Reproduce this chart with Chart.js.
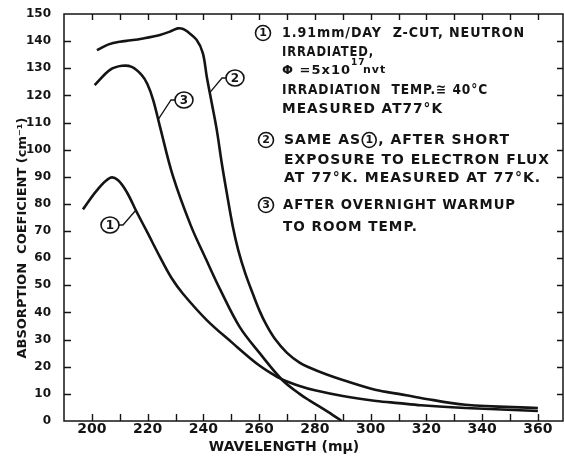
<!DOCTYPE html>
<html>
<head>
<meta charset="utf-8">
<script src="https://cdn.jsdelivr.net/npm/chart.js@4.4.1/dist/chart.umd.min.js"></script>
<style>
  html, body { margin:0; padding:0; background:#fff; }
</style>
</head>
<body>
<canvas id="grafico" width="564" height="457"></canvas>
<script>
// curva 1 : irradiada, medida a 77K
const wl1  = [196.8, 201.8, 206.5, 209.3, 212.5, 216.1, 220, 224.4, 228.7, 232.6, 241.2, 250.5, 259.1, 264, 268.3, 274.5, 280, 290, 302, 310, 318, 334, 360];
const abs1 = [78, 85, 89.6, 88.8, 84.4, 77, 69.3, 60.5, 52.5, 47, 37.2, 28.7, 21.2, 17.8, 15.3, 12.9, 11.3, 9.2, 7.4, 6.6, 5.8, 4.8, 3.7];

// curva 2 : depois do fluxo de electroes
const wl2  = [201.8, 206, 210, 214, 218.3, 224.4, 228, 230.8, 232.5, 234, 237.6, 239.8, 241.2, 243, 244.8, 246.6, 248.4, 250.5, 252.5, 255, 257.7, 260.2, 262.7, 265.5, 269.9, 274.5, 278, 284, 290, 302, 310, 318, 334, 360];
const abs2 = [136.7, 138.8, 139.8, 140.3, 141, 142.3, 143.5, 144.7, 144.6, 143.7, 140.4, 135.6, 127, 117.2, 107.3, 95, 84, 72, 63, 54.5, 47, 40.5, 35.2, 30.5, 25.2, 21.5, 19.7, 17.2, 15.1, 11.4, 10, 8.5, 6, 4.8];

// curva 3 : depois do aquecimento
const wl3  = [201, 206.5, 210.8, 214.3, 217.9, 219.9, 222, 224.4, 229, 235.5, 241, 246, 253, 260.2, 268.3, 274.5, 278, 284, 289.6];
const abs3 = [123.8, 129.4, 130.9, 130.5, 127.5, 124.2, 118.3, 108.6, 90.5, 72, 59.5, 48.5, 34.7, 25, 15.1, 10, 7.6, 3.8, 0];

const xTicks = [200, 210, 220, 230, 240, 250, 260, 270, 280, 290, 300, 310, 320, 330, 340, 350, 360];
const yTicks = [0, 10, 20, 30, 40, 50, 60, 70, 80, 90, 100, 110, 120, 130, 140, 150];

const tinta = '#141414';
const fonte = '"DejaVu Sans", sans-serif';

function pontos(xs, ys){ return xs.map((x,i)=>({x:x, y:ys[i]})); }

function circulo(ctx, cx, cy, rx, ry, txt, tam){
    ctx.beginPath();
    ctx.ellipse(cx, cy, rx, ry, 0, 0, Math.PI*2);
    ctx.lineWidth = 1.6;
    ctx.stroke();
    ctx.font = 'bold '+tam+'px '+fonte;
    ctx.textAlign = 'center';
    ctx.textBaseline = 'middle';
    ctx.fillText(txt, cx, cy+0.5);
}

// linha de texto com largura maxima
function linha(ctx, txt, x, y, larg){
    const w = ctx.measureText(txt).width;
    if(larg && w > larg) ctx.fillText(txt, x, y, larg);
    else ctx.fillText(txt, x, y);
}

// moldura, tracos internos, titulos e anotacoes
const desenho = {
    id: 'desenho',
    afterDraw(chart){
        const ctx = chart.ctx;
        const a = chart.chartArea;
        const sx = chart.scales.x, sy = chart.scales.y;
        ctx.save();
        ctx.strokeStyle = tinta;
        ctx.fillStyle = tinta;

        // moldura
        ctx.lineWidth = 1.5;
        ctx.strokeRect(a.left, a.top, a.right-a.left, a.bottom-a.top);

        // tracos para dentro
        ctx.lineWidth = 1.4;
        ctx.beginPath();
        xTicks.forEach(v=>{
            const px = Math.round(sx.getPixelForValue(v))+0.5;
            ctx.moveTo(px, a.bottom); ctx.lineTo(px, a.bottom-7);
            ctx.moveTo(px, a.top); ctx.lineTo(px, a.top+6);
        });
        yTicks.forEach(v=>{
            if(v===0 || v===150) return;
            const py = Math.round(sy.getPixelForValue(v))+0.5;
            ctx.moveTo(a.left, py); ctx.lineTo(a.left+7, py);
            ctx.moveTo(a.right, py); ctx.lineTo(a.right-6, py);
        });
        ctx.stroke();

        // titulo do eixo y
        ctx.save();
        ctx.translate(23, 238);
        ctx.rotate(-Math.PI/2);
        ctx.font = 'bold 13px '+fonte;
        ctx.textAlign = 'center';
        ctx.textBaseline = 'middle';
        ctx.fillText('ABSORPTION  COEFICIENT (cm\u207B\u00B9)', 0, 0);
        ctx.restore();

        // titulo do eixo x
        ctx.font = 'bold 14px '+fonte;
        ctx.textAlign = 'center';
        ctx.textBaseline = 'middle';
        ctx.fillText('WAVELENGTH (m\u03BC)', 284, 447);

        // legenda
        ctx.letterSpacing = '1px';
        ctx.font = 'bold 14px '+fonte;
        ctx.textAlign = 'left';
        ctx.textBaseline = 'middle';
        linha(ctx, '1.91mm/DAY  Z-CUT, NEUTRON', 282, 33, 243);
        linha(ctx, 'IRRADIATED,', 282, 52, 92);
        ctx.font = 'bold 13px '+fonte;
        ctx.fillText('\u03A6 =5x10', 282, 71);
        let w = ctx.measureText('\u03A6 =5x10').width;
        ctx.font = 'bold 9px '+fonte;
        ctx.fillText('17', 282+w, 63);
        ctx.font = 'bold 11px '+fonte;
        ctx.fillText('nvt', 282+w+12, 70);
        ctx.font = 'bold 14px '+fonte;
        linha(ctx, 'IRRADIATION  TEMP.\u2245 40\u00B0C', 282, 90, 206);
        linha(ctx, 'MEASURED AT77\u00B0K', 282, 109, 161);
        ctx.fillText('SAME AS', 284, 140);
        w = ctx.measureText('SAME AS').width;
        ctx.fillText(', AFTER SHORT', 284+w+17, 140);
        linha(ctx, 'EXPOSURE TO ELECTRON FLUX', 284, 160, 266);
        linha(ctx, 'AT 77\u00B0K. MEASURED AT 77\u00B0K.', 284, 178, 258);
        linha(ctx, 'AFTER OVERNIGHT WARMUP', 283, 205, 233);
        linha(ctx, 'TO ROOM TEMP.', 283, 227, 135);
        ctx.letterSpacing = '0px';
        circulo(ctx, 263, 33, 7.5, 7.5, '1', 11);
        circulo(ctx, 266, 140, 7.5, 7.5, '2', 11);
        circulo(ctx, 284+w+8, 140, 7, 7.5, '1', 11);
        circulo(ctx, 266, 205, 7.5, 7.5, '3', 11);

        // chamadas nas curvas
        const chamadas = [
            {n:'1', cx:110, cy:225, x:215.6, y:77.5},
            {n:'2', cx:235, cy:78, x:242.3, y:121},
            {n:'3', cx:184, cy:100, x:223.7, y:111}
        ];
        chamadas.forEach(c=>{
            const px = sx.getPixelForValue(c.x), py = sy.getPixelForValue(c.y);
            const lado = px < c.cx ? -1 : 1;
            const bx = c.cx + lado*9;
            ctx.lineWidth = 1.3;
            ctx.beginPath();
            ctx.moveTo(bx, c.cy);
            ctx.lineTo(bx + lado*4, c.cy);
            ctx.lineTo(px, py);
            ctx.stroke();
            circulo(ctx, c.cx, c.cy, 9, 8, c.n, 12);
        });

        ctx.restore();
    }
};

const estilo = {
    borderColor: tinta,
    borderWidth: 2.6,
    pointRadius: 0,
    showLine: true,
    fill: false,
    tension: 0.35
};

const ctx = document.getElementById('grafico').getContext('2d');
const grafico = new Chart(ctx, {
    type: 'scatter',
    data: {
        datasets: [
            Object.assign({ label: '1', data: pontos(wl1, abs1) }, estilo),
            Object.assign({ label: '2', data: pontos(wl2, abs2) }, estilo),
            Object.assign({ label: '3', data: pontos(wl3, abs3) }, estilo)
        ]
    },
    options: {
        responsive: false,
        animation: false,
        devicePixelRatio: 1,
        layout: { padding: { top: 14, right: 1, left: 0, bottom: 0 } },
        plugins: {
            legend: { display: false },
            tooltip: { enabled: false }
        },
        scales: {
            x: {
                type: 'linear',
                min: 190,
                max: 369,
                grid: { display: false },
                border: { display: false },
                afterFit: s => { s.height = 36; },
                afterBuildTicks: s => { s.ticks = xTicks.map(v => ({ value: v })); },
                ticks: {
                    autoSkip: false,
                    maxRotation: 0,
                    padding: -8,
                    color: tinta,
                    font: { family: fonte, size: 14, weight: 'bold', lineHeight: 1.2 },
                    callback: v => (v % 20 === 0 ? String(v) : '')
                }
            },
            y: {
                type: 'linear',
                min: 0,
                max: 150,
                grid: { display: false },
                border: { display: false },
                afterFit: s => { s.width = 64; },
                afterBuildTicks: s => { s.ticks = yTicks.map(v => ({ value: v })); },
                ticks: {
                    autoSkip: false,
                    padding: 5,
                    color: tinta,
                    font: { family: fonte, size: 12, weight: 'bold' }
                }
            }
        }
    },
    plugins: [desenho]
});
</script>
</body>
</html>
